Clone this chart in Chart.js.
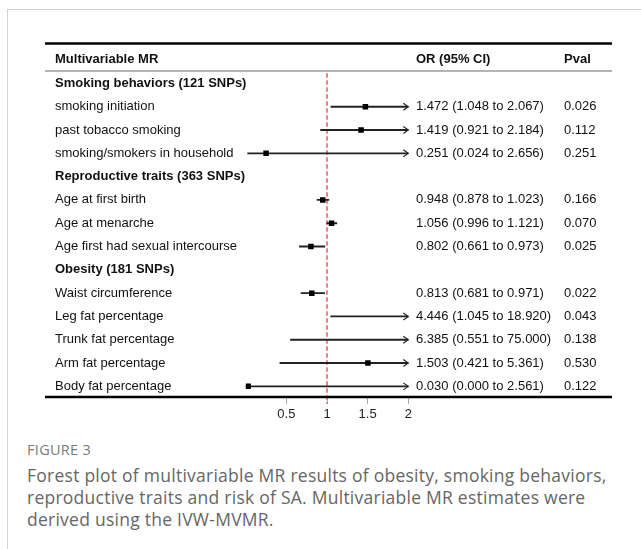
<!DOCTYPE html>
<html>
<head>
<meta charset="utf-8">
<script src="https://cdn.jsdelivr.net/npm/chart.js@4.4.1/dist/chart.umd.min.js"></script>
<style>
  html, body { margin:0; padding:0; background:#fff; }
  body { width:641px; height:549px; position:relative; overflow:hidden; }
  #frame { position:absolute; left:7px; top:9px; right:-2px; bottom:-2px; border-top:1px solid #d2d2d2; border-left:1px solid #d2d2d2; }
  #wrap { position:absolute; left:0; top:0; width:641px; height:430px; }
  #cap { position:absolute; left:27px; top:441px; width:592px; font-family:'Open Sans', sans-serif; }
  #cap .fig { font-size:14.5px; color:#7a7a7a; line-height:18px; letter-spacing:0.3px; }
  #cap .txt { font-size:17.5px; color:#666; line-height:22px; margin-top:5px; letter-spacing:0.25px; }
</style>
</head>
<body>
<div id="frame"></div>
<div id="wrap"><canvas id="c" width="641" height="430"></canvas></div>
<div id="cap">
  <div class="fig">FIGURE 3</div>
  <div class="txt">Forest plot of multivariable MR results of obesity, smoking behaviors, reproductive traits and risk of SA. Multivariable MR estimates were derived using the IVW-MVMR.</div>
</div>
<script>
// ---- data ----
const rowLabels = [
  'Smoking behaviors (121 SNPs)', 'smoking initiation', 'past tobacco smoking', 'smoking/smokers in household',
  'Reproductive traits (363 SNPs)', 'Age at first birth', 'Age at menarche', 'Age first had sexual intercourse',
  'Obesity (181 SNPs)', 'Waist circumference', 'Leg fat percentage', 'Trunk fat percentage', 'Arm fat percentage', 'Body fat percentage'
];
const groupRows = [0, 4, 8];
const estimates = [null, 1.472, 1.419, 0.251, null, 0.948, 1.056, 0.802, null, 0.813, 4.446, 6.385, 1.503, 0.030];
const lowerCI   = [null, 1.048, 0.921, 0.024, null, 0.878, 0.996, 0.661, null, 0.681, 1.045, 0.551, 0.421, 0.000];
const upperCI   = [null, 2.067, 2.184, 2.656, null, 1.023, 1.121, 0.973, null, 0.971, 18.920, 75.000, 5.361, 2.561];
const pValues   = ['', '0.026', '0.112', '0.251', '', '0.166', '0.070', '0.025', '', '0.022', '0.043', '0.138', '0.530', '0.122'];
const xTickValues = [0.5, 1, 1.5, 2];
const xRange = [0, 2];
const refValue = 1;
const headers = ['Multivariable MR', 'OR (95% CI)', 'Pval'];

// ---- derived ----
const orText = estimates.map((e, i) => e === null ? '' :
  e.toFixed(3) + ' (' + lowerCI[i].toFixed(3) + ' to ' + upperCI[i].toFixed(3) + ')');
const ciBars = lowerCI.map((l, i) => l === null ? null : [l, upperCI[i]]);

const FONT = "'Liberation Sans', Arial, sans-serif";
const COL_LABEL = 55, COL_OR = 416, COL_P = 564;
const TABLE_L = 45, TABLE_R = 612;

const tablePlugin = {
  id: 'forestTable',
  beforeDatasetsDraw(chart) {
    const { ctx, scales: { x }, chartArea } = chart;
    const px = x.getPixelForValue(refValue);
    ctx.save();
    ctx.strokeStyle = '#f0606a';
    ctx.lineWidth = 1.6;
    ctx.setLineDash([4.5, 2.5]);
    ctx.beginPath();
    ctx.moveTo(px, chartArea.top + 1.5);
    ctx.lineTo(px, chartArea.bottom + 6);
    ctx.stroke();
    ctx.restore();
  },
  afterDatasetsDraw(chart) {
    const { ctx, scales: { x, y } } = chart;
    ctx.save();
    ctx.strokeStyle = '#222';
    ctx.lineWidth = 1.1;
    for (let i = 0; i < rowLabels.length; i++) {
      if (upperCI[i] === null) continue;
      const py = y.getPixelForValue(i);
      if (upperCI[i] > x.max) {
        const ax = x.getPixelForValue(x.max);
        ctx.beginPath();
        ctx.moveTo(ax - 5, py - 3.5);
        ctx.lineTo(ax, py);
        ctx.lineTo(ax - 5, py + 3.5);
        ctx.stroke();
      }
      if (lowerCI[i] < x.min) {
        const ax = x.getPixelForValue(x.min);
        ctx.beginPath();
        ctx.moveTo(ax + 5, py - 3.5);
        ctx.lineTo(ax, py);
        ctx.lineTo(ax + 5, py + 3.5);
        ctx.stroke();
      }
    }
    ctx.restore();
  },
  afterDraw(chart) {
    const { ctx, scales: { y }, chartArea } = chart;
    ctx.save();
    ctx.strokeStyle = '#000';
    ctx.lineWidth = 2.6;
    ctx.beginPath(); ctx.moveTo(TABLE_L, 43.5); ctx.lineTo(TABLE_R, 43.5); ctx.stroke();
    ctx.strokeStyle = '#b4b4b4';
    ctx.lineWidth = 2;
    ctx.beginPath(); ctx.moveTo(TABLE_L, 71); ctx.lineTo(TABLE_R, 71); ctx.stroke();
    ctx.strokeStyle = '#000';
    ctx.lineWidth = 2.6;
    ctx.beginPath(); ctx.moveTo(TABLE_L, chartArea.bottom - 1); ctx.lineTo(TABLE_R, chartArea.bottom - 1); ctx.stroke();

    ctx.textBaseline = 'middle';
    ctx.fillStyle = '#111';
    ctx.font = 'bold 13px ' + FONT;
    ctx.textAlign = 'left';
    ctx.fillText(headers[0], COL_LABEL, 59);
    ctx.fillText(headers[1], COL_OR, 59);
    ctx.fillText(headers[2], COL_P, 59);

    for (let i = 0; i < rowLabels.length; i++) {
      const py = y.getPixelForValue(i);
      const isGroup = groupRows.includes(i);
      ctx.font = (isGroup ? 'bold ' : '') + '13px ' + FONT;
      ctx.fillText(rowLabels[i], COL_LABEL, py);
      ctx.font = '13px ' + FONT;
      if (orText[i]) ctx.fillText(orText[i], COL_OR, py);
      if (pValues[i]) ctx.fillText(pValues[i], COL_P, py);
    }
    ctx.restore();
  }
};

new Chart(document.getElementById('c'), {
  type: 'bar',
  data: {
    labels: rowLabels,
    datasets: [
      {
        type: 'bar',
        label: '95% CI',
        data: ciBars,
        backgroundColor: '#222',
        borderWidth: 0,
        barThickness: 1.2,
        order: 2
      },
      {
        type: 'line',
        label: 'OR',
        data: estimates,
        indexAxis: 'y',
        showLine: false,
        spanGaps: false,
        pointStyle: 'rect',
        pointRadius: 3.9,
        pointBorderWidth: 0,
        backgroundColor: '#000',
        borderColor: '#000',
        order: 1
      }
    ]
  },
  options: {
    indexAxis: 'y',
    responsive: false,
    animation: false,
    events: [],
    layout: { padding: { left: 245.7, right: 232.7, top: 71.75, bottom: 2 } },
    plugins: { legend: { display: false }, tooltip: { enabled: false }, title: { display: false } },
    scales: {
      y: { type: 'category', labels: rowLabels, display: false, offset: true },
      x: {
        type: 'linear', min: xRange[0], max: xRange[1], position: 'bottom',
        border: { display: false },
        grid: { drawOnChartArea: false, drawTicks: true, tickLength: 6, color: '#aaa', lineWidth: 1 },
        ticks: { font: { family: FONT, size: 13 }, color: '#222', padding: 3, maxRotation: 0,
                 callback: v => String(v) },
        afterBuildTicks: s => { s.ticks = xTickValues.map(v => ({ value: v })); },
        afterFit: s => { s.height = 30; }
      }
    }
  },
  plugins: [tablePlugin]
});
</script>
</body>
</html>
